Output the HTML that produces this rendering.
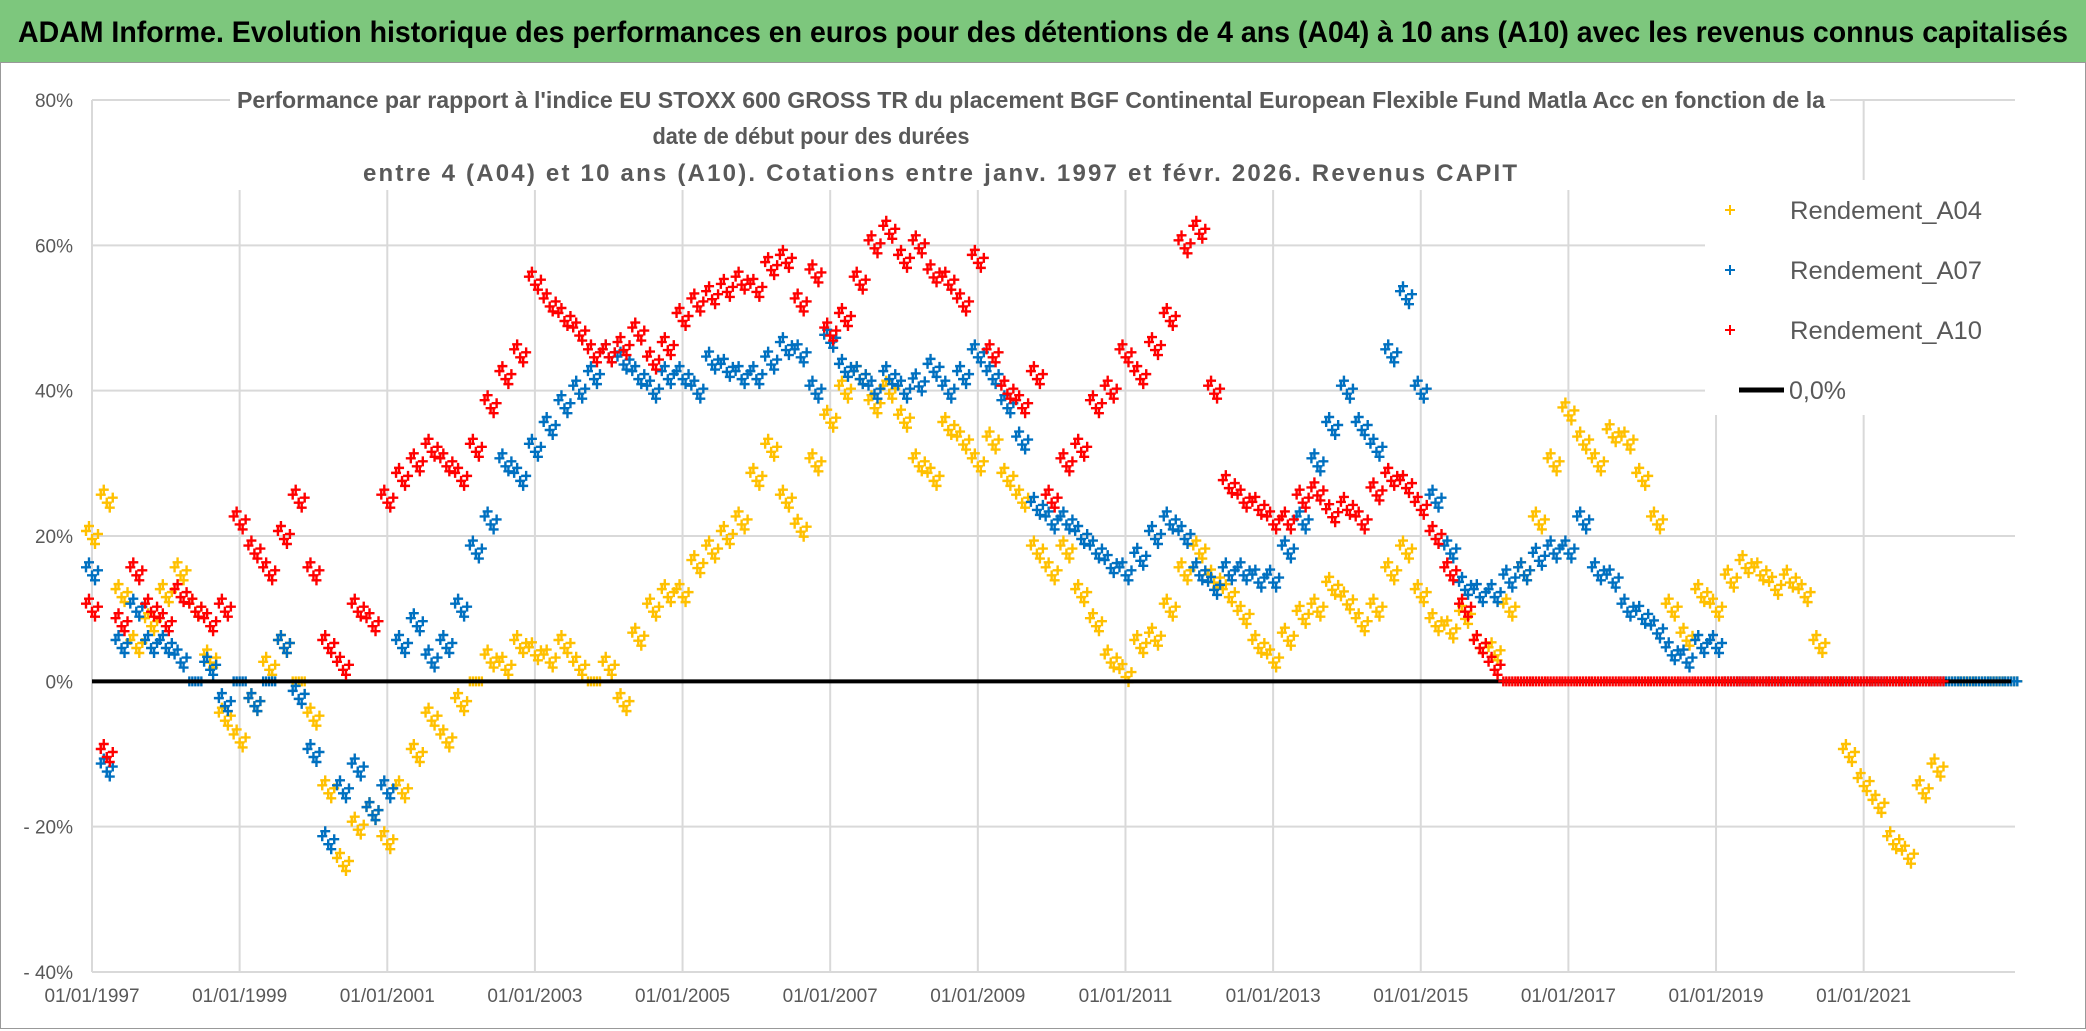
<!DOCTYPE html>
<html><head><meta charset="utf-8"><style>
html,body{margin:0;padding:0;background:#fff;}
svg{display:block;font-family:"Liberation Sans",sans-serif;}
</style></head><body>
<svg id="chart" width="2086" height="1031" viewBox="0 0 2086 1031">
<rect x="0" y="0" width="2086" height="1031" fill="#fff"/>
<rect x="0" y="0" width="2086" height="62" fill="#7dc77d"/>
<text x="1043" y="42" text-anchor="middle" font-size="30" font-weight="bold" fill="#000" textLength="2050" lengthAdjust="spacingAndGlyphs">ADAM Informe. Evolution historique des performances en euros pour des détentions de 4 ans (A04) à 10 ans (A10) avec les revenus connus capitalisés</text>
<rect x="0.5" y="62.5" width="2085" height="966" fill="none" stroke="#999" stroke-width="1"/>
<g id="grid"></g>
<g id="marks"></g>
<rect x="230" y="84" width="1600" height="106" fill="#fff"/>
<g fill="#595959" font-weight="bold" font-size="23" text-anchor="middle">
<text x="1031" y="108" textLength="1588" lengthAdjust="spacingAndGlyphs">Performance par rapport à l'indice EU STOXX 600 GROSS TR  du placement BGF Continental European Flexible Fund Matla Acc en fonction de la</text>
<text x="811" y="144" textLength="317" lengthAdjust="spacingAndGlyphs">date de début pour des durées</text>
<text x="940" y="181" font-size="24" textLength="1154" lengthAdjust="spacing">entre 4 (A04) et 10 ans (A10). Cotations entre janv. 1997 et févr. 2026. Revenus CAPIT</text>
</g>
<g id="legend">
<rect x="1705" y="180" width="325" height="235" fill="#fff"/>
<g><path d="M1725 210h10M1730 205v10" stroke="#FFC000" stroke-width="2"/><text x="1790" y="219" font-size="25" fill="#595959" textLength="192" lengthAdjust="spacingAndGlyphs">Rendement_A04</text></g>
<g><path d="M1725 270h10M1730 265v10" stroke="#0070C0" stroke-width="2"/><text x="1790" y="279" font-size="25" fill="#595959" textLength="192" lengthAdjust="spacingAndGlyphs">Rendement_A07</text></g>
<g><path d="M1725 330h10M1730 325v10" stroke="#FF0000" stroke-width="2"/><text x="1790" y="339" font-size="25" fill="#595959" textLength="192" lengthAdjust="spacingAndGlyphs">Rendement_A10</text></g>
<g><path d="M1739 390h45" stroke="#000" stroke-width="5"/><text x="1789" y="399" font-size="25" fill="#595959">0,0%</text></g>
</g>
</svg>
<script>
const yTicks=[-40,-20,0,20,40,60,80];
const yTickLabels=["- 40%","- 20%","0%","20%","40%","60%","80%"];
const xTicks=[1997,1999,2001,2003,2005,2007,2009,2011,2013,2015,2017,2019,2021];
const xTickLabels=["01/01/1997","01/01/1999","01/01/2001","01/01/2003","01/01/2005","01/01/2007","01/01/2009","01/01/2011","01/01/2013","01/01/2015","01/01/2017","01/01/2019","01/01/2021"];
const startYear=1997, stepYear=0.2;
const a04=[20,25,12,5,8, 12,15,10,3,-5, -8,-3,2,5,0, -5,-15,-25,-20,-18, -22,-15,-10,-5,-8, -3,0,3,2,5, 4,3,5,2,0, 2,-3,6,10,12, 12,16,18,20,22, 28,32,25,21,30, 36,40,42,38,40, 36,30,28,35,33, 30,33,28,25,18, 15,18,12,8,3, 1,5,6,10,15, 18,14,12,9,5, 3,6,9,10,13, 11,8,10,15,18, 12,8,7,9,5, 4,10,15,22,30, 37,33,30,34,33, 28,22,10,6,12, 10,14,16,15,13, 14,12,5,0,-10, -14,-17,-22,-24,-15, -12,0,0,0,0, 0];
const a07=[15,-12,5,10,5, 5,3,0,2,-3, 0,-3,0,5,-2, -10,-22,-15,-12,-18, -15,5,8,3,5, 10,18,22,30,28, 32,35,38,40,42, 45,44,42,40,42, 42,40,44,43,42, 42,44,46,45,40, 47,43,42,40,42, 40,41,43,40,42, 45,42,38,33,24, 22,22,20,18,16, 15,17,20,22,20, 15,13,15,15,14, 14,18,22,30,35, 40,35,32,45,53, 40,25,18,13,12, 12,14,15,17,18, 18,22,15,14,10, 9,7,4,3,5, 5,0,0,0,0, 0,0,0,0,0, 0,0,0,0,0, 0,0,0,0,0, 0];
const a10=[10,-10,8,15,10, 8,12,10,8,10, 22,18,15,20,25, 15,5,2,10,8, 25,28,30,32,30, 28,32,38,42,45, 55,52,50,48,45, 45,46,48,44,46, 50,52,53,54,55, 54,57,58,52,56, 48,50,55,60,62, 58,60,56,55,52, 58,45,40,38,42, 25,30,32,38,40, 45,42,46,50,60, 62,40,27,25,24, 22,22,25,26,23, 24,22,26,28,27, 24,20,15,10,5, 2,0,0,0,0, 0,0,0,0,0, 0,0,0,0,0, 0,0,0,0,0, 0,0,0,0,0, 0,0,0,0,0, 0];
const zeroLine=[0,0];
const zeroYears=[1997,2023];

const X0=92, X1=2015, Y0=972, Y1=100;
const xMin=1997, xMax=2023.05, yMin=-40, yMax=80;
function xs(y){return X0+(y-xMin)/(xMax-xMin)*(X1-X0);}
function ys(v){return Y0-(v-yMin)/(yMax-yMin)*(Y0-Y1);}
const NS="http://www.w3.org/2000/svg";
function mk(tag,attrs,parent){const e=document.createElementNS(NS,tag);for(const k in attrs)e.setAttribute(k,attrs[k]);parent.appendChild(e);return e;}
const grid=document.getElementById('grid');
yTicks.forEach((t,i)=>{
  const l=mk('line',{x1:X0,x2:X1,y1:ys(t),y2:ys(t),stroke:'#d9d9d9','stroke-width':2},grid);
  
  
  const tx=mk('text',{x:73,y:ys(t)+7,'text-anchor':'end','font-size':19,fill:'#595959'},grid);
  tx.textContent=yTickLabels[i];
  
  
});
xTicks.forEach((t,i)=>{
  const l=mk('line',{x1:xs(t),x2:xs(t),y1:Y1,y2:Y0,stroke:'#d9d9d9','stroke-width':2},grid);
  
  
  const tx=mk('text',{x:xs(t),y:1002,'text-anchor':'middle','font-size':19,fill:'#595959'},grid);
  tx.textContent=xTickLabels[i];
  
  
});
const marks=document.getElementById('marks');
const cluster=[[-6,-5],[0,3],[6,-2],[3,8],[-3,-10]];
function series(arr,color,name){
  const g=mk('g',{stroke:color,'stroke-width':2.4,fill:'none'},marks);
  
  
  let d='';
  arr.forEach((v,i)=>{const x=xs(startYear+i*stepYear),y=ys(v);
    cluster.forEach(([dx,dy])=>{const yy=v===0?y:y+dy;d+=`M${x+dx-5} ${yy}h10M${x+dx} ${yy-5}v10`;});});
  const p=mk('path',{d:d},g);
  
  
}
series(a04,'#FFC000','series-a04');
series(a07,'#0070C0','series-a07');
const zl=mk('line',{x1:xs(zeroYears[0]),x2:xs(zeroYears[1]),y1:ys(zeroLine[0]),y2:ys(zeroLine[1]),stroke:'#000','stroke-width':4},marks);


series(a10,'#FF0000','series-a10');
</script>
</body></html>
